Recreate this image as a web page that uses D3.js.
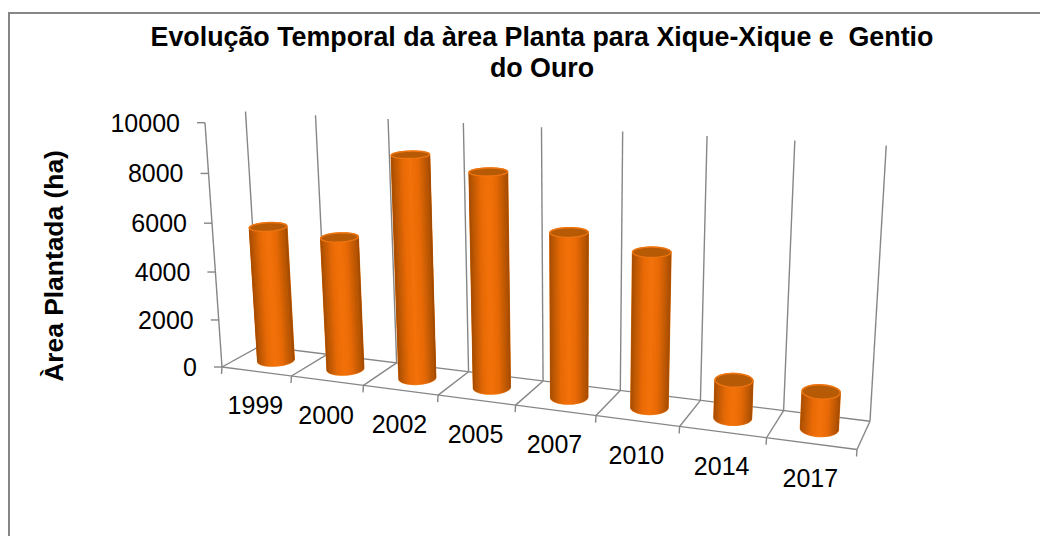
<!DOCTYPE html>
<html>
<head>
<meta charset="utf-8">
<script src="https://cdn.jsdelivr.net/npm/d3@7"></script>
<style>
    body { margin: 0; background: #fff; }
    text { font-family: "Liberation Sans", Arial, sans-serif; fill: #000; }
</style>
</head>
<body>
<div id="chart"></div>
<script>
const years = ["1999", "2000", "2002", "2005", "2007", "2010", "2014", "2017"];
const areaPlantada = [5640, 5480, 9000, 8560, 6500, 6030, 1470, 1420];
const yTicks = [0, 2000, 4000, 6000, 8000, 10000];
const titleLines = ["Evolução Temporal da àrea Planta para Xique-Xique e  Gentio", "do Ouro"];
const yTitle = "Àrea Plantada (ha)";

const width = 1040, height = 536;

const svg = d3.select("#chart").append("svg")
    .attr("width", width)
    .attr("height", height)
    .style("display", "block");

// the chart area border runs off the right and bottom of the picture
svg.append("path")
    .attr("d", "M9,536V13H1040")
    .attr("fill", "none")
    .attr("stroke", "#868686")
    .attr("stroke-width", 2);

svg.selectAll(".title")
    .data(titleLines)
    .enter()
    .append("text")
    .attr("class", "title")
    .attr("x", 542)
    .attr("y", function (d, i) { return 46 + i * 31; })
    .attr("text-anchor", "middle")
    .attr("font-size", "26.8px")
    .attr("font-weight", "bold")
    .style("white-space", "pre")
    .text(function (d) { return d; });

// the 3d box: floor corners on screen, perspective terms, vertical direction
const floorFL = [222, 367], floorFR = [857, 449.5], floorBL = [260, 346];
const topFL = [205, 122.7];
const gu = -0.14, gv = 0.044, gz = -0.046;

const au = floorFR[0] * (1 + gu) - floorFL[0], du = floorFR[1] * (1 + gu) - floorFL[1];
const av = floorBL[0] * (1 + gv) - floorFL[0], dv = floorBL[1] * (1 + gv) - floorFL[1];
const az = topFL[0] * (1 + gz) - floorFL[0], dz = topFL[1] * (1 + gz) - floorFL[1];

// scales work in box units, project() turns them into pixels
const xScale = d3.scaleBand().domain(years).range([0, 1]);
const yScale = d3.scaleLinear().domain([0, 10000]).range([0, 1]);

function project(u, v, z) {
    let w = gu * u + gv * v + gz * z + 1;
    return [
        (au * u + av * v + az * z + floorFL[0]) / w,
        (du * u + dv * v + dz * z + floorFL[1]) / w
    ];
}

const line = d3.line();
const gridColor = "#868686";

const grid = svg.append("g")
    .attr("fill", "none")
    .attr("stroke", gridColor)
    .attr("stroke-width", 1.4);

// vertical lines on the back wall and floor lines between categories
const bounds = years.map(function (d) { return xScale(d); }).concat([1]);
bounds.forEach(function (u) {
    // back wall reads a bit taller to the right in the reference
    grid.append("path").attr("d", line([project(u, 1, 0), project(u, 1, 1 + 0.025 * u)]));
    grid.append("path").attr("d", line([project(u, 0, 0), project(u, 1, 0)]));
    let p = project(u, 0, 0);
    grid.append("path").attr("d", line([p, [p[0] - 0.5, p[1] + 7]]));
});
grid.append("path").attr("d", line([project(0, 1, 0), project(1, 1, 0)]));
grid.append("path").attr("d", line([project(0, 0, 0), project(1, 0, 0)]));
grid.append("path").attr("d", line([project(0, 0, 0), project(0, 0, 1)]));

// value axis ticks
yTicks.forEach(function (t) {
    let p = project(0, 0, yScale(t));
    grid.append("path").attr("d", line([p, [p[0] - 8, p[1]]]));
    svg.append("text")
        .attr("x", p[0] - 25)
        .attr("y", p[1] + 9)
        .attr("text-anchor", "end")
        .attr("font-size", "25px")
        .text(t);
});

svg.append("text")
    .attr("transform", "translate(63,266) rotate(-90)")
    .attr("text-anchor", "middle")
    .attr("font-size", "26.4px")
    .attr("font-weight", "bold")
    .text(yTitle);

// category labels under the front edge
svg.selectAll(".year")
    .data(years)
    .enter()
    .append("text")
    .attr("class", "year")
    .attr("x", function (d) { return project(xScale(d) + xScale.bandwidth() / 2, 0, 0)[0] - 1; })
    .attr("y", function (d) { return project(xScale(d) + xScale.bandwidth() / 2, 0, 0)[1] + 43; })
    .attr("text-anchor", "middle")
    .attr("font-size", "25px")
    .text(function (d) { return d; });

// cylinders
const radiusV = 0.26;
const halfWidth = d3.scaleLinear().domain([0, 7]).range([15.5, 18.5]);
const sides = 48;
const shade = d3.scaleLinear()
    .domain([0, 0.08, 0.3, 0.5, 0.7, 0.92, 1])
    .range(["#a34c03", "#b85604", "#e86a06", "#f4720a", "#e86a06", "#b85604", "#a34c03"]);

const bars = svg.selectAll(".bar")
    .data(years)
    .enter()
    .append("g")
    .attr("class", "bar");

bars.each(function (d, i) {
    let g = d3.select(this);
    let cu = xScale(d) + xScale.bandwidth() / 2, cv = 0.52, z = yScale(areaPlantada[i]);
    // bars keep nearly the same screen width, so the radius is set from pixels
    let pxPerU = project(cu + 0.01, cv, 0)[0] - project(cu - 0.01, cv, 0)[0];
    let radiusU = halfWidth(i) * 0.02 / pxPerU;
    let ring = function (h) {
        return d3.range(sides).map(function (k) {
            let a = k / sides * 2 * Math.PI;
            return project(cu + radiusU * Math.cos(a), cv + radiusV * Math.sin(a), h);
        });
    };
    let base = ring(0), top = ring(z);
    let minX = d3.min(base, function (p) { return p[0]; });
    let maxX = d3.max(base, function (p) { return p[0]; });

    // outline first, it shows as the thin light edge
    g.append("path")
        .attr("d", line(d3.polygonHull(base.concat(top))) + "Z")
        .attr("fill", "#f07008")
        .attr("stroke", "#f58a2c")
        .attr("stroke-width", 1.6)
        .attr("stroke-linejoin", "round");

    // side strips that face the viewer
    d3.range(sides).forEach(function (k) {
        let n = (k + 1) % sides;
        let quad = [base[k], base[n], top[n], top[k]];
        if (d3.polygonArea(quad) <= 0) return;
        let c = shade(((base[k][0] + base[n][0]) / 2 - minX) / (maxX - minX));
        g.append("path")
            .attr("d", line(quad) + "Z")
            .attr("fill", c)
            .attr("stroke", c)
            .attr("stroke-width", 0.6);
    });

    g.append("path")
        .attr("d", line(top) + "Z")
        .attr("fill", "#b65a06")
        .attr("stroke", "#ee7410")
        .attr("stroke-width", 1.4);
});
</script>
</body>
</html>
